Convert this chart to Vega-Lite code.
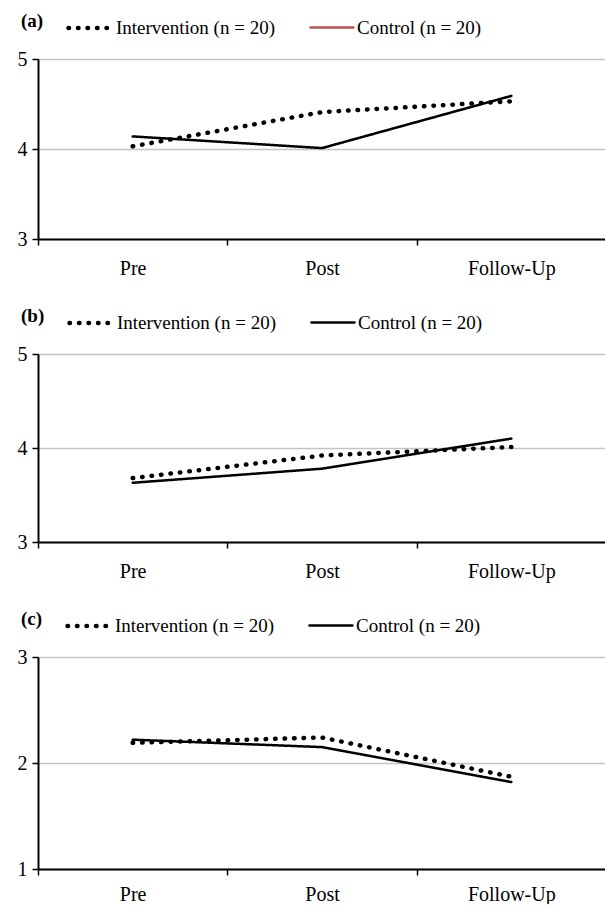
{
  "$schema": "https://vega.github.io/schema/vega-lite/v6.json",
  "padding": {"left": 17, "top": 4, "right": 0, "bottom": 0},
  "background": "white",
  "datasets": {
    "scores": [
      {"panel": "a", "time": "Pre", "group": "Intervention (n = 20)", "value": 4.03},
      {"panel": "a", "time": "Post", "group": "Intervention (n = 20)", "value": 4.41},
      {"panel": "a", "time": "Follow-Up", "group": "Intervention (n = 20)", "value": 4.53},
      {"panel": "a", "time": "Pre", "group": "Control (n = 20)", "value": 4.14},
      {"panel": "a", "time": "Post", "group": "Control (n = 20)", "value": 4.01},
      {"panel": "a", "time": "Follow-Up", "group": "Control (n = 20)", "value": 4.59},
      {"panel": "b", "time": "Pre", "group": "Intervention (n = 20)", "value": 3.68},
      {"panel": "b", "time": "Post", "group": "Intervention (n = 20)", "value": 3.92},
      {"panel": "b", "time": "Follow-Up", "group": "Intervention (n = 20)", "value": 4.01},
      {"panel": "b", "time": "Pre", "group": "Control (n = 20)", "value": 3.63},
      {"panel": "b", "time": "Post", "group": "Control (n = 20)", "value": 3.78},
      {"panel": "b", "time": "Follow-Up", "group": "Control (n = 20)", "value": 4.10},
      {"panel": "c", "time": "Pre", "group": "Intervention (n = 20)", "value": 2.19},
      {"panel": "c", "time": "Post", "group": "Intervention (n = 20)", "value": 2.24},
      {"panel": "c", "time": "Follow-Up", "group": "Intervention (n = 20)", "value": 1.87},
      {"panel": "c", "time": "Pre", "group": "Control (n = 20)", "value": 2.22},
      {"panel": "c", "time": "Post", "group": "Control (n = 20)", "value": 2.15},
      {"panel": "c", "time": "Follow-Up", "group": "Control (n = 20)", "value": 1.82}
    ]
  },
  "config": {
    "view": {"stroke": null},
    "font": "Times New Roman",
    "axis": {
      "labelFont": "Times New Roman",
      "labelFontSize": 20,
      "labelColor": "black",
      "domainColor": "black",
      "domainWidth": 2,
      "tickColor": "black",
      "tickWidth": 1.5,
      "tickSize": 6,
      "gridColor": "#c4c4c4",
      "gridWidth": 1.5,
      "title": null
    },
    "legend": {
      "orient": "none",
      "legendX": -17,
      "legendY": -55,
      "direction": "horizontal",
      "titleOrient": "left",
      "titleFont": "Times New Roman",
      "titleFontWeight": "bold",
      "titleFontSize": 19,
      "titleColor": "black",
      "titlePadding": 22,
      "labelFont": "Times New Roman",
      "labelFontSize": 19,
      "labelColor": "black",
      "labelLimit": 400,
      "labelOffset": 2,
      "symbolType": "stroke",
      "symbolSize": 1849,
      "columnPadding": 30,
      "symbolStrokeColor": "black"
    }
  },
  "spacing": 21,
  "vconcat": [
    {
      "width": 568,
      "height": 180,
      "data": {"name": "scores"},
      "transform": [{"filter": "datum.panel === 'a'"}],
      "mark": {"type": "line", "strokeCap": "round", "color": "black"},
      "encoding": {
        "x": {"field": "time", "type": "nominal", "sort": ["Pre", "Post", "Follow-Up"], "scale": {"type": "band", "paddingInner": 0, "paddingOuter": 0}, "axis": {"labelAngle": 0, "tickBand": "extent", "labelPadding": 13}},
        "y": {"field": "value", "type": "quantitative", "scale": {"domain": [3, 5], "nice": false, "zero": false}, "axis": {"values": [3, 4, 5], "format": ".0f", "labelPadding": 5}},
        "strokeDash": {"field": "group", "type": "nominal", "scale": {"domain": ["Intervention (n = 20)", "Control (n = 20)"], "range": [[0.5, 9], [1, 0]]}, "legend": {"title": "(a)", "encode": {"symbols": {"update": {"strokeCap": {"value": "round"}, "stroke": {"signal": "datum.value === 'Control (n = 20)' ? '#c0504d' : 'black'"}}}}}},
        "strokeWidth": {"field": "group", "type": "nominal", "scale": {"domain": ["Intervention (n = 20)", "Control (n = 20)"], "range": [4.5, 2.5]}, "legend": {"title": "(a)"}}
      }
    },
    {
      "width": 568,
      "height": 188,
      "data": {"name": "scores"},
      "transform": [{"filter": "datum.panel === 'b'"}],
      "mark": {"type": "line", "strokeCap": "round", "color": "black"},
      "encoding": {
        "x": {"field": "time", "type": "nominal", "sort": ["Pre", "Post", "Follow-Up"], "scale": {"type": "band", "paddingInner": 0, "paddingOuter": 0}, "axis": {"labelAngle": 0, "tickBand": "extent", "labelPadding": 13}},
        "y": {"field": "value", "type": "quantitative", "scale": {"domain": [3, 5], "nice": false, "zero": false}, "axis": {"values": [3, 4, 5], "format": ".0f", "labelPadding": 5}},
        "strokeDash": {"field": "group", "type": "nominal", "scale": {"domain": ["Intervention (n = 20)", "Control (n = 20)"], "range": [[0.5, 9], [1, 0]]}, "legend": {"title": "(b)", "encode": {"symbols": {"update": {"strokeCap": {"value": "round"}}}}}},
        "strokeWidth": {"field": "group", "type": "nominal", "scale": {"domain": ["Intervention (n = 20)", "Control (n = 20)"], "range": [4.5, 2.5]}, "legend": {"title": "(b)"}}
      }
    },
    {
      "width": 568,
      "height": 212,
      "data": {"name": "scores"},
      "transform": [{"filter": "datum.panel === 'c'"}],
      "mark": {"type": "line", "strokeCap": "round", "color": "black"},
      "encoding": {
        "x": {"field": "time", "type": "nominal", "sort": ["Pre", "Post", "Follow-Up"], "scale": {"type": "band", "paddingInner": 0, "paddingOuter": 0}, "axis": {"labelAngle": 0, "tickBand": "extent", "labelPadding": 9}},
        "y": {"field": "value", "type": "quantitative", "scale": {"domain": [1, 3], "nice": false, "zero": false}, "axis": {"values": [1, 2, 3], "format": ".0f", "labelPadding": 5}},
        "strokeDash": {"field": "group", "type": "nominal", "scale": {"domain": ["Intervention (n = 20)", "Control (n = 20)"], "range": [[0.5, 9], [1, 0]]}, "legend": {"title": "(c)", "encode": {"symbols": {"update": {"strokeCap": {"value": "round"}}}}}},
        "strokeWidth": {"field": "group", "type": "nominal", "scale": {"domain": ["Intervention (n = 20)", "Control (n = 20)"], "range": [4.5, 2.5]}, "legend": {"title": "(c)"}}
      }
    }
  ],
  "resolve": {"scale": {"strokeDash": "independent", "strokeWidth": "independent", "x": "independent", "y": "independent"}, "legend": {"strokeDash": "independent", "strokeWidth": "independent"}}
}
